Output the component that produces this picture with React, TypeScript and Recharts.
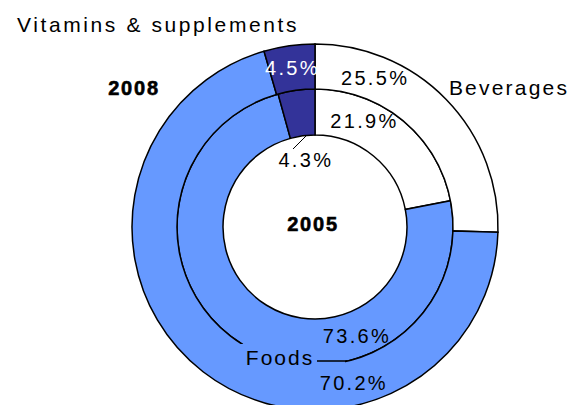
import React from 'react';
import { PieChart, Pie, Cell } from 'recharts';

const categories = ['Beverages', 'Foods', 'Vitamins & supplements'];
const values2005 = [21.9, 73.6, 4.3];
const values2008 = [25.5, 70.2, 4.5];
const colors = ['#FFFFFF', '#6699FF', '#333399'];
const labelColors = ['#000000', '#000000', '#FFFFFF'];

const CX = 315;
const CY = 227;
const RAD = Math.PI / 180;
const FONT = '"Liberation Sans", Arial, sans-serif';

const data2005 = categories.map((name, i) => ({ name, value: values2005[i] }));
const data2008 = categories.map((name, i) => ({ name, value: values2008[i] }));

// label angle overrides (degrees), null = use slice middle
const innerLabelAngle: (number | null)[] = [65, -69, null];
const outerLabelAngle: (number | null)[] = [68, -76, null];

function makeLabel(angles: (number | null)[], radiusFn: (ir: number, or: number, i: number) => number, colorsFor: string[]) {
  return (props: any) => {
    const { cx, cy, midAngle, innerRadius, outerRadius, index, value } = props;
    const a = angles[index] ?? midAngle;
    const r = radiusFn(innerRadius, outerRadius, index);
    const x = cx + r * Math.cos(-a * RAD);
    const y = cy + r * Math.sin(-a * RAD);
    return (
      <text
        key={`l-${index}`}
        x={x}
        y={y}
        fill={colorsFor[index]}
        textAnchor="middle"
        dominantBaseline="central"
        fontFamily={FONT}
        fontSize={20}
        letterSpacing={2.3}
      >
        {value.toFixed(1)}%
      </text>
    );
  };
}

export default function App() {
  return (
    <div style={{ position: 'absolute', left: 0, top: 0, width: 579, height: 405, background: '#fff' }}>
      <PieChart width={579} height={405} margin={{ top: 0, right: 0, bottom: 0, left: 0 }}>
        <Pie
          data={data2005}
          dataKey="value"
          nameKey="name"
          cx={CX}
          cy={CY}
          innerRadius={92}
          outerRadius={138}
          startAngle={90}
          endAngle={-270}
          stroke="#000"
          strokeWidth={1.5}
          isAnimationActive={false}
          labelLine={false}
          label={makeLabel(innerLabelAngle, (ir, or, i) => (i === 2 ? 68 : (ir + or) / 2 + 2), ['#000', '#000', '#000'])}
        >
          {data2005.map((d, i) => (
            <Cell key={d.name} fill={colors[i]} />
          ))}
        </Pie>
        <Pie
          data={data2008}
          dataKey="value"
          nameKey="name"
          cx={CX}
          cy={CY}
          innerRadius={138}
          outerRadius={183}
          startAngle={90}
          endAngle={-270}
          stroke="#000"
          strokeWidth={1.5}
          isAnimationActive={false}
          labelLine={false}
          label={makeLabel(outerLabelAngle, (ir, or) => (ir + or) / 2, labelColors)}
        >
          {data2008.map((d, i) => (
            <Cell key={d.name} fill={colors[i]} />
          ))}
        </Pie>
      </PieChart>
      <svg
        width={579}
        height={405}
        style={{ position: 'absolute', left: 0, top: 0, pointerEvents: 'none' }}
        fontFamily={FONT}
      >
        <text x={17} y={32} fontSize={21} letterSpacing={2.6} fill="#000">
          Vitamins &amp; supplements
        </text>
        <text x={509} y={95} fontSize={21} letterSpacing={2.2} textAnchor="middle" fill="#000">
          Beverages
        </text>
        {/* break the ring boundary where the Foods label sits */}
        <rect x={238} y={344} width={107} height={25} fill={colors[1]} />
        <text x={280} y={365} fontSize={21} letterSpacing={2} textAnchor="middle" fill="#000">
          Foods
        </text>
        <line x1={317} y1={361} x2={347} y2={361} stroke="#000" strokeWidth={1.5} />
        <line x1={293} y1={149} x2={306} y2={136} stroke="#000" strokeWidth={1} />
        <text x={134} y={95} fontSize={20} fontWeight={900} letterSpacing={1.8} textAnchor="middle" fill="#000" stroke="#000" strokeWidth={0.6}>
          2008
        </text>
        <text x={313} y={231} fontSize={20} fontWeight={900} letterSpacing={1.8} textAnchor="middle" fill="#000" stroke="#000" strokeWidth={0.6}>
          2005
        </text>
      </svg>
    </div>
  );
}
